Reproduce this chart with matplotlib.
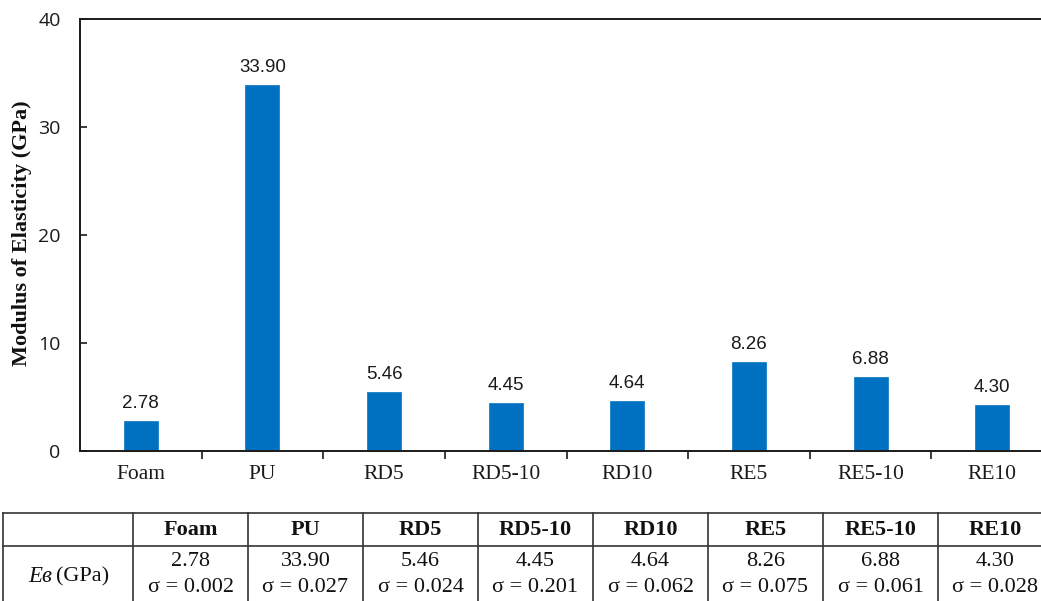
import matplotlib
matplotlib.use("Agg")
import matplotlib.pyplot as plt
from matplotlib.lines import Line2D
from matplotlib.ticker import FixedLocator, NullFormatter

# Data
samples = ["Foam", "PU", "RD5", "RD5-10", "RD10", "RE5", "RE5-10", "RE10"]
modulus = [2.78, 33.90, 5.46, 4.45, 4.64, 8.26, 6.88, 4.30]
sigma = [0.002, 0.027, 0.024, 0.201, 0.062, 0.075, 0.061, 0.028]
y_ticks = [0, 10, 20, 30, 40]

W, H = 1041, 601
fig = plt.figure(figsize=(W / 100, H / 100), dpi=100)

def fx(px):
    return px / W

def fy(py):
    return 1 - py / H

# Chart area (pixel layout)
ax_left, ax_right, ax_top, ax_bottom = 80, 1053, 19, 451
ax = fig.add_axes([fx(ax_left), fy(ax_bottom), fx(ax_right - ax_left), (ax_bottom - ax_top) / H])

bar_color = "#0070C0"
x = list(range(len(samples)))
ax.bar(x, modulus, width=0.28, color=bar_color, edgecolor="#1a80c8", linewidth=0.6, zorder=2)

for xi, v in zip(x, modulus):
    ax.annotate(f"{v:.2f}", (xi, v), xytext=(0, 6.5), textcoords="offset points",
                ha="center", va="bottom", fontsize=13.5, family="Liberation Sans", color="#1a1a1a")

ax.set_xlim(-0.5, len(samples) - 0.5)
ax.set_ylim(0, 40)
ax.set_yticks(y_ticks)
ax.set_yticklabels([str(t) for t in y_ticks], fontsize=14, family="Open Sans", color="#1a1a1a")
ax.tick_params(axis="y", direction="in", length=5, width=1.2, pad=14, colors="#1a1a1a")

ax.set_xticks(x)
ax.set_xticklabels(samples, fontsize=15.5, family="Liberation Serif", color="#1a1a1a")
ax.tick_params(axis="x", which="major", length=0, pad=10)
ax.xaxis.set_minor_locator(FixedLocator([i + 0.5 for i in range(len(samples) - 1)]))
ax.xaxis.set_minor_formatter(NullFormatter())
ax.tick_params(axis="x", which="minor", direction="out", length=6, width=1.2, colors="#1a1a1a")

for side in ["left", "bottom", "top"]:
    ax.spines[side].set_linewidth(1.4)
    ax.spines[side].set_color("#1a1a1a")
ax.spines["right"].set_visible(False)

fig.text(fx(22), fy(233), "Modulus of Elasticity (GPa)", rotation=90, ha="center", va="center",
         fontsize=16, fontweight="bold", family="Liberation Serif", color="#111111")

# Summary table below the chart
tbl_left = 3
first_col = 133
col_w = 115
row_top, row_mid, row_bot = 513, 546, 604
line_kw = dict(color="#333333", linewidth=1.2, transform=fig.transFigure)

col_edges = [tbl_left, first_col] + [first_col + col_w * (i + 1) for i in range(len(samples))]
for yy in (row_top, row_mid, row_bot):
    fig.add_artist(Line2D([fx(tbl_left), fx(col_edges[-1])], [fy(yy), fy(yy)], **line_kw))
for xx in col_edges:
    fig.add_artist(Line2D([fx(xx), fx(xx)], [fy(row_top), fy(row_bot)], **line_kw))

for i, (name, v, s) in enumerate(zip(samples, modulus, sigma)):
    cx = first_col + col_w * (i + 0.5)
    fig.text(fx(cx), fy(530), name, ha="center", va="center",
             fontsize=16, fontweight="bold", family="Liberation Serif", color="#111111")
    fig.text(fx(cx), fy(561), f"{v:.2f}", ha="center", va="center",
             fontsize=16, family="Liberation Serif", color="#111111")
    fig.text(fx(cx), fy(588), f"σ = {s:.3f}", ha="center", va="center",
             fontsize=16, family="Liberation Serif", color="#111111")

fig.text(fx(52), fy(577), "Eв", ha="right", va="center", fontsize=16.5, style="italic",
         family="Liberation Serif", color="#111111")
fig.text(fx(56), fy(577), "(GPa)", ha="left", va="center", fontsize=16,
         family="Liberation Serif", color="#111111")

fig.savefig("out.png", dpi=100)
